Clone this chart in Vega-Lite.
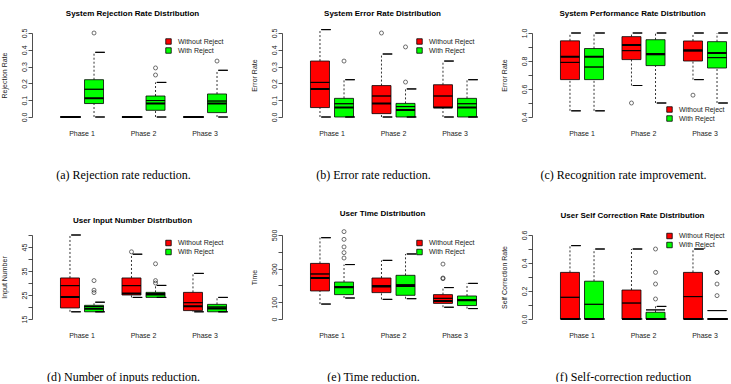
{
  "$schema": "https://vega.github.io/schema/vega-lite/v6.json",
  "background": "white",
  "padding": {"left": 0, "top": 10, "right": 0, "bottom": 0},
  "datasets": {
    "boxes": [
      {"panel": "a", "phase": "Phase 1", "group": "Without Reject", "lo": 0, "q1": 0, "med": 0, "mean": 0, "q3": 0, "hi": 0},
      {"panel": "a", "phase": "Phase 1", "group": "With Reject", "lo": 0, "q1": 0.08, "med": 0.111, "mean": 0.165, "q3": 0.222, "hi": 0.385},
      {"panel": "a", "phase": "Phase 2", "group": "Without Reject", "lo": 0, "q1": 0, "med": 0, "mean": 0, "q3": 0, "hi": 0},
      {"panel": "a", "phase": "Phase 2", "group": "With Reject", "lo": 0, "q1": 0.04, "med": 0.08, "mean": 0.098, "q3": 0.125, "hi": 0.206},
      {"panel": "a", "phase": "Phase 3", "group": "Without Reject", "lo": 0, "q1": 0, "med": 0, "mean": 0, "q3": 0, "hi": 0},
      {"panel": "a", "phase": "Phase 3", "group": "With Reject", "lo": 0, "q1": 0.026, "med": 0.081, "mean": 0.095, "q3": 0.137, "hi": 0.278},

      {"panel": "b", "phase": "Phase 1", "group": "Without Reject", "lo": 0, "q1": 0.056, "med": 0.167, "mean": 0.206, "q3": 0.333, "hi": 0.52},
      {"panel": "b", "phase": "Phase 1", "group": "With Reject", "lo": 0, "q1": 0, "med": 0.056, "mean": 0.079, "q3": 0.111, "hi": 0.222},
      {"panel": "b", "phase": "Phase 2", "group": "Without Reject", "lo": 0, "q1": 0.02, "med": 0.081, "mean": 0.125, "q3": 0.187, "hi": 0.375},
      {"panel": "b", "phase": "Phase 2", "group": "With Reject", "lo": 0, "q1": 0, "med": 0.042, "mean": 0.062, "q3": 0.081, "hi": 0.167},
      {"panel": "b", "phase": "Phase 3", "group": "Without Reject", "lo": 0, "q1": 0.056, "med": 0.056, "mean": 0.125, "q3": 0.192, "hi": 0.333},
      {"panel": "b", "phase": "Phase 3", "group": "With Reject", "lo": 0, "q1": 0, "med": 0.056, "mean": 0.079, "q3": 0.111, "hi": 0.222},

      {"panel": "c", "phase": "Phase 1", "group": "Without Reject", "lo": 0.444, "q1": 0.667, "med": 0.831, "mean": 0.79, "q3": 0.944, "hi": 1},
      {"panel": "c", "phase": "Phase 1", "group": "With Reject", "lo": 0.444, "q1": 0.667, "med": 0.831, "mean": 0.757, "q3": 0.889, "hi": 1},
      {"panel": "c", "phase": "Phase 2", "group": "Without Reject", "lo": 0.625, "q1": 0.81, "med": 0.914, "mean": 0.874, "q3": 0.974, "hi": 1},
      {"panel": "c", "phase": "Phase 2", "group": "With Reject", "lo": 0.5, "q1": 0.767, "med": 0.85, "mean": 0.845, "q3": 0.952, "hi": 1},
      {"panel": "c", "phase": "Phase 3", "group": "Without Reject", "lo": 0.667, "q1": 0.8, "med": 0.876, "mean": 0.872, "q3": 0.943, "hi": 1},
      {"panel": "c", "phase": "Phase 3", "group": "With Reject", "lo": 0.5, "q1": 0.75, "med": 0.857, "mean": 0.824, "q3": 0.938, "hi": 1},

      {"panel": "d", "phase": "Phase 1", "group": "Without Reject", "lo": 18, "q1": 19.6, "med": 24.2, "mean": 28.9, "q3": 32.1, "hi": 50},
      {"panel": "d", "phase": "Phase 1", "group": "With Reject", "lo": 18, "q1": 18, "med": 19.3, "mean": 20.2, "q3": 20.7, "hi": 22},
      {"panel": "d", "phase": "Phase 2", "group": "Without Reject", "lo": 24, "q1": 25, "med": 25.6, "mean": 28.9, "q3": 32.1, "hi": 42},
      {"panel": "d", "phase": "Phase 2", "group": "With Reject", "lo": 24, "q1": 24, "med": 25.2, "mean": 25.6, "q3": 26.1, "hi": 29},
      {"panel": "d", "phase": "Phase 3", "group": "Without Reject", "lo": 18, "q1": 18.5, "med": 20.3, "mean": 21.8, "q3": 26.1, "hi": 34},
      {"panel": "d", "phase": "Phase 3", "group": "With Reject", "lo": 18, "q1": 18, "med": 19.4, "mean": 20, "q3": 21.1, "hi": 24},

      {"panel": "e", "phase": "Phase 1", "group": "Without Reject", "lo": 89, "q1": 167, "med": 244, "mean": 268, "q3": 331, "hi": 484},
      {"panel": "e", "phase": "Phase 1", "group": "With Reject", "lo": 125, "q1": 145, "med": 189, "mean": 192, "q3": 220, "hi": 324},
      {"panel": "e", "phase": "Phase 2", "group": "Without Reject", "lo": 117, "q1": 157, "med": 193, "mean": 199, "q3": 244, "hi": 349},
      {"panel": "e", "phase": "Phase 2", "group": "With Reject", "lo": 121, "q1": 141, "med": 196, "mean": 204, "q3": 260, "hi": 387},
      {"panel": "e", "phase": "Phase 3", "group": "Without Reject", "lo": 70, "q1": 93, "med": 107, "mean": 123, "q3": 145, "hi": 187},
      {"panel": "e", "phase": "Phase 3", "group": "With Reject", "lo": 62, "q1": 80, "med": 111, "mean": 115, "q3": 137, "hi": 212},

      {"panel": "f", "phase": "Phase 1", "group": "Without Reject", "lo": 0, "q1": 0, "med": 0, "mean": 0.155, "q3": 0.333, "hi": 0.524},
      {"panel": "f", "phase": "Phase 1", "group": "With Reject", "lo": 0, "q1": 0, "med": 0, "mean": 0.105, "q3": 0.27, "hi": 0.5},
      {"panel": "f", "phase": "Phase 2", "group": "Without Reject", "lo": 0, "q1": 0, "med": 0, "mean": 0.114, "q3": 0.207, "hi": 0.5},
      {"panel": "f", "phase": "Phase 2", "group": "With Reject", "lo": 0, "q1": 0, "med": 0, "mean": 0.065, "q3": 0.048, "hi": 0.09},
      {"panel": "f", "phase": "Phase 3", "group": "Without Reject", "lo": 0, "q1": 0, "med": 0, "mean": 0.16, "q3": 0.333, "hi": 0.5},
      {"panel": "f", "phase": "Phase 3", "group": "With Reject", "lo": 0, "q1": 0, "med": 0, "mean": 0.06, "q3": 0, "hi": 0}
    ],
    "outliers": [
      {"panel": "a", "phase": "Phase 1", "group": "With Reject", "value": 0.5},
      {"panel": "a", "phase": "Phase 2", "group": "With Reject", "value": 0.292},
      {"panel": "a", "phase": "Phase 2", "group": "With Reject", "value": 0.25},
      {"panel": "a", "phase": "Phase 3", "group": "With Reject", "value": 0.333},
      {"panel": "b", "phase": "Phase 1", "group": "With Reject", "value": 0.333},
      {"panel": "b", "phase": "Phase 2", "group": "Without Reject", "value": 0.5},
      {"panel": "b", "phase": "Phase 2", "group": "With Reject", "value": 0.417},
      {"panel": "b", "phase": "Phase 2", "group": "With Reject", "value": 0.208},
      {"panel": "c", "phase": "Phase 2", "group": "Without Reject", "value": 0.5},
      {"panel": "c", "phase": "Phase 3", "group": "Without Reject", "value": 0.556},
      {"panel": "d", "phase": "Phase 1", "group": "With Reject", "value": 31},
      {"panel": "d", "phase": "Phase 1", "group": "With Reject", "value": 27},
      {"panel": "d", "phase": "Phase 1", "group": "With Reject", "value": 26},
      {"panel": "d", "phase": "Phase 2", "group": "Without Reject", "value": 43},
      {"panel": "d", "phase": "Phase 2", "group": "With Reject", "value": 38},
      {"panel": "d", "phase": "Phase 2", "group": "With Reject", "value": 31},
      {"panel": "d", "phase": "Phase 2", "group": "With Reject", "value": 30},
      {"panel": "e", "phase": "Phase 1", "group": "With Reject", "value": 520},
      {"panel": "e", "phase": "Phase 1", "group": "With Reject", "value": 474},
      {"panel": "e", "phase": "Phase 1", "group": "With Reject", "value": 429},
      {"panel": "e", "phase": "Phase 1", "group": "With Reject", "value": 395},
      {"panel": "e", "phase": "Phase 1", "group": "With Reject", "value": 363},
      {"panel": "e", "phase": "Phase 3", "group": "Without Reject", "value": 327},
      {"panel": "e", "phase": "Phase 3", "group": "Without Reject", "value": 244},
      {"panel": "e", "phase": "Phase 3", "group": "Without Reject", "value": 240},
      {"panel": "f", "phase": "Phase 2", "group": "With Reject", "value": 0.5},
      {"panel": "f", "phase": "Phase 2", "group": "With Reject", "value": 0.333},
      {"panel": "f", "phase": "Phase 2", "group": "With Reject", "value": 0.25},
      {"panel": "f", "phase": "Phase 2", "group": "With Reject", "value": 0.143},
      {"panel": "f", "phase": "Phase 3", "group": "With Reject", "value": 0.333},
      {"panel": "f", "phase": "Phase 3", "group": "With Reject", "value": 0.333},
      {"panel": "f", "phase": "Phase 3", "group": "With Reject", "value": 0.25},
      {"panel": "f", "phase": "Phase 3", "group": "With Reject", "value": 0.167}
    ]
  },
  "columns": 3,
  "bounds": "flush",
  "spacing": {"row": 118, "column": 27},
  "resolve": {
    "scale": {"color": "independent", "xOffset": "independent"},
    "legend": {"color": "independent"}
  },
  "concat": [
    {
      "width": 223, "height": 84,
      "title": "System Rejection Rate Distribution",
      "data": {"name": "boxes"},
      "transform": [{"filter": "datum.panel === 'a'"}],
      "encoding": {
        "x": {"field": "phase", "type": "nominal", "scale": {"paddingInner": 0.3, "paddingOuter": 0.463}, "axis": {"title": "(a) Rejection rate reduction."}},
        "xOffset": {"field": "group", "type": "nominal", "sort": ["Without Reject", "With Reject"], "scale": {"paddingInner": 0.21, "paddingOuter": 0}}
      },
      "layer": [
        {"mark": {"type": "rule", "strokeDash": [2, 2], "color": "black", "strokeWidth": 0.8},
         "encoding": {"y": {"field": "lo", "type": "quantitative", "scale": {"domain": [0, 0.5], "nice": false, "zero": false}, "axis": {"title": "Rejection Rate", "values": [0, 0.1, 0.2, 0.3, 0.4, 0.5], "format": ".1f"}}, "y2": {"field": "q1"}}},
        {"mark": {"type": "rule", "strokeDash": [2, 2], "color": "black", "strokeWidth": 0.8},
         "encoding": {"y": {"field": "q3", "type": "quantitative", "scale": {"domain": [0, 0.5], "nice": false, "zero": false}, "axis": {"title": "Rejection Rate", "values": [0, 0.1, 0.2, 0.3, 0.4, 0.5], "format": ".1f"}}, "y2": {"field": "hi"}}},
        {"mark": {"type": "bar", "stroke": "black", "strokeWidth": 0.8, "width": {"band": 1}},
         "encoding": {"y": {"field": "q1", "type": "quantitative", "scale": {"domain": [0, 0.5], "nice": false, "zero": false}, "axis": {"title": "Rejection Rate", "values": [0, 0.1, 0.2, 0.3, 0.4, 0.5], "format": ".1f"}}, "y2": {"field": "q3"},
           "color": {"field": "group", "type": "nominal", "scale": {"domain": ["Without Reject", "With Reject"], "range": ["#ff0000", "#00ff00"]}, "legend": {"legendX": 133, "legendY": 5}}}},
        {"mark": {"type": "bar", "stroke": "black", "strokeWidth": 1, "fill": "black", "width": {"band": 0.5}},
         "encoding": {"y": {"field": "lo", "type": "quantitative", "scale": {"domain": [0, 0.5], "nice": false, "zero": false}, "axis": {"title": "Rejection Rate", "values": [0, 0.1, 0.2, 0.3, 0.4, 0.5], "format": ".1f"}}, "y2": {"field": "lo"}}},
        {"mark": {"type": "bar", "stroke": "black", "strokeWidth": 1, "fill": "black", "width": {"band": 0.5}},
         "encoding": {"y": {"field": "hi", "type": "quantitative", "scale": {"domain": [0, 0.5], "nice": false, "zero": false}, "axis": {"title": "Rejection Rate", "values": [0, 0.1, 0.2, 0.3, 0.4, 0.5], "format": ".1f"}}, "y2": {"field": "hi"}}},
        {"mark": {"type": "bar", "stroke": "black", "strokeWidth": 2, "fill": "black", "width": {"band": 1}},
         "encoding": {"y": {"field": "med", "type": "quantitative", "scale": {"domain": [0, 0.5], "nice": false, "zero": false}, "axis": {"title": "Rejection Rate", "values": [0, 0.1, 0.2, 0.3, 0.4, 0.5], "format": ".1f"}}, "y2": {"field": "med"}}},
        {"mark": {"type": "bar", "stroke": "black", "strokeWidth": 0.9, "fill": "black", "width": {"band": 1}},
         "encoding": {"y": {"field": "mean", "type": "quantitative", "scale": {"domain": [0, 0.5], "nice": false, "zero": false}, "axis": {"title": "Rejection Rate", "values": [0, 0.1, 0.2, 0.3, 0.4, 0.5], "format": ".1f"}}, "y2": {"field": "mean"}}},
        {"data": {"name": "outliers"}, "transform": [{"filter": "datum.panel === 'a'"}],
         "mark": {"type": "point", "shape": "circle", "filled": false, "size": 16, "color": "black", "strokeWidth": 0.8},
         "encoding": {"y": {"field": "value", "type": "quantitative", "scale": {"domain": [0, 0.5], "nice": false, "zero": false}, "axis": {"title": "Rejection Rate", "values": [0, 0.1, 0.2, 0.3, 0.4, 0.5], "format": ".1f"}}}}
      ]
    },
    {
      "width": 223, "height": 84,
      "title": "System Error Rate Distribution",
      "data": {"name": "boxes"},
      "transform": [{"filter": "datum.panel === 'b'"}],
      "encoding": {
        "x": {"field": "phase", "type": "nominal", "scale": {"paddingInner": 0.3, "paddingOuter": 0.463}, "axis": {"title": "(b) Error rate reduction."}},
        "xOffset": {"field": "group", "type": "nominal", "sort": ["Without Reject", "With Reject"], "scale": {"paddingInner": 0.21, "paddingOuter": 0}}
      },
      "layer": [
        {"mark": {"type": "rule", "strokeDash": [2, 2], "color": "black", "strokeWidth": 0.8},
         "encoding": {"y": {"field": "lo", "type": "quantitative", "scale": {"domain": [0, 0.5], "nice": false, "zero": false}, "axis": {"title": "Error Rate", "values": [0, 0.1, 0.2, 0.3, 0.4, 0.5], "format": ".1f"}}, "y2": {"field": "q1"}}},
        {"mark": {"type": "rule", "strokeDash": [2, 2], "color": "black", "strokeWidth": 0.8},
         "encoding": {"y": {"field": "q3", "type": "quantitative", "scale": {"domain": [0, 0.5], "nice": false, "zero": false}, "axis": {"title": "Error Rate", "values": [0, 0.1, 0.2, 0.3, 0.4, 0.5], "format": ".1f"}}, "y2": {"field": "hi"}}},
        {"mark": {"type": "bar", "stroke": "black", "strokeWidth": 0.8, "width": {"band": 1}},
         "encoding": {"y": {"field": "q1", "type": "quantitative", "scale": {"domain": [0, 0.5], "nice": false, "zero": false}, "axis": {"title": "Error Rate", "values": [0, 0.1, 0.2, 0.3, 0.4, 0.5], "format": ".1f"}}, "y2": {"field": "q3"},
           "color": {"field": "group", "type": "nominal", "scale": {"domain": ["Without Reject", "With Reject"], "range": ["#ff0000", "#00ff00"]}, "legend": {"legendX": 134, "legendY": 5}}}},
        {"mark": {"type": "bar", "stroke": "black", "strokeWidth": 1, "fill": "black", "width": {"band": 0.5}},
         "encoding": {"y": {"field": "lo", "type": "quantitative", "scale": {"domain": [0, 0.5], "nice": false, "zero": false}, "axis": {"title": "Error Rate", "values": [0, 0.1, 0.2, 0.3, 0.4, 0.5], "format": ".1f"}}, "y2": {"field": "lo"}}},
        {"mark": {"type": "bar", "stroke": "black", "strokeWidth": 1, "fill": "black", "width": {"band": 0.5}},
         "encoding": {"y": {"field": "hi", "type": "quantitative", "scale": {"domain": [0, 0.5], "nice": false, "zero": false}, "axis": {"title": "Error Rate", "values": [0, 0.1, 0.2, 0.3, 0.4, 0.5], "format": ".1f"}}, "y2": {"field": "hi"}}},
        {"mark": {"type": "bar", "stroke": "black", "strokeWidth": 2, "fill": "black", "width": {"band": 1}},
         "encoding": {"y": {"field": "med", "type": "quantitative", "scale": {"domain": [0, 0.5], "nice": false, "zero": false}, "axis": {"title": "Error Rate", "values": [0, 0.1, 0.2, 0.3, 0.4, 0.5], "format": ".1f"}}, "y2": {"field": "med"}}},
        {"mark": {"type": "bar", "stroke": "black", "strokeWidth": 0.9, "fill": "black", "width": {"band": 1}},
         "encoding": {"y": {"field": "mean", "type": "quantitative", "scale": {"domain": [0, 0.5], "nice": false, "zero": false}, "axis": {"title": "Error Rate", "values": [0, 0.1, 0.2, 0.3, 0.4, 0.5], "format": ".1f"}}, "y2": {"field": "mean"}}},
        {"data": {"name": "outliers"}, "transform": [{"filter": "datum.panel === 'b'"}],
         "mark": {"type": "point", "shape": "circle", "filled": false, "size": 16, "color": "black", "strokeWidth": 0.8},
         "encoding": {"y": {"field": "value", "type": "quantitative", "scale": {"domain": [0, 0.5], "nice": false, "zero": false}, "axis": {"title": "Error Rate", "values": [0, 0.1, 0.2, 0.3, 0.4, 0.5], "format": ".1f"}}}}
      ]
    },
    {
      "width": 223, "height": 84,
      "title": "System Performance Rate Distribution",
      "data": {"name": "boxes"},
      "transform": [{"filter": "datum.panel === 'c'"}],
      "encoding": {
        "x": {"field": "phase", "type": "nominal", "scale": {"paddingInner": 0.3, "paddingOuter": 0.463}, "axis": {"title": "(c) Recognition rate improvement."}},
        "xOffset": {"field": "group", "type": "nominal", "sort": ["Without Reject", "With Reject"], "scale": {"paddingInner": 0.21, "paddingOuter": 0}}
      },
      "layer": [
        {"mark": {"type": "rule", "strokeDash": [2, 2], "color": "black", "strokeWidth": 0.8},
         "encoding": {"y": {"field": "lo", "type": "quantitative", "scale": {"domain": [0.4, 1], "nice": false, "zero": false}, "axis": {"title": "Error Rate", "values": [0.4, 0.5, 0.6, 0.7, 0.8, 0.9, 1], "format": ".1f", "labelExpr": "indexof(['0.4','0.6','0.8','1.0'], datum.label) >= 0 ? datum.label : ''"}}, "y2": {"field": "q1"}}},
        {"mark": {"type": "rule", "strokeDash": [2, 2], "color": "black", "strokeWidth": 0.8},
         "encoding": {"y": {"field": "q3", "type": "quantitative", "scale": {"domain": [0.4, 1], "nice": false, "zero": false}, "axis": {"title": "Error Rate", "values": [0.4, 0.5, 0.6, 0.7, 0.8, 0.9, 1], "format": ".1f", "labelExpr": "indexof(['0.4','0.6','0.8','1.0'], datum.label) >= 0 ? datum.label : ''"}}, "y2": {"field": "hi"}}},
        {"mark": {"type": "bar", "stroke": "black", "strokeWidth": 0.8, "width": {"band": 1}},
         "encoding": {"y": {"field": "q1", "type": "quantitative", "scale": {"domain": [0.4, 1], "nice": false, "zero": false}, "axis": {"title": "Error Rate", "values": [0.4, 0.5, 0.6, 0.7, 0.8, 0.9, 1], "format": ".1f", "labelExpr": "indexof(['0.4','0.6','0.8','1.0'], datum.label) >= 0 ? datum.label : ''"}}, "y2": {"field": "q3"},
           "color": {"field": "group", "type": "nominal", "scale": {"domain": ["Without Reject", "With Reject"], "range": ["#ff0000", "#00ff00"]}, "legend": {"legendX": 134, "legendY": 73}}}},
        {"mark": {"type": "bar", "stroke": "black", "strokeWidth": 1, "fill": "black", "width": {"band": 0.5}},
         "encoding": {"y": {"field": "lo", "type": "quantitative", "scale": {"domain": [0.4, 1], "nice": false, "zero": false}, "axis": {"title": "Error Rate", "values": [0.4, 0.5, 0.6, 0.7, 0.8, 0.9, 1], "format": ".1f", "labelExpr": "indexof(['0.4','0.6','0.8','1.0'], datum.label) >= 0 ? datum.label : ''"}}, "y2": {"field": "lo"}}},
        {"mark": {"type": "bar", "stroke": "black", "strokeWidth": 1, "fill": "black", "width": {"band": 0.5}},
         "encoding": {"y": {"field": "hi", "type": "quantitative", "scale": {"domain": [0.4, 1], "nice": false, "zero": false}, "axis": {"title": "Error Rate", "values": [0.4, 0.5, 0.6, 0.7, 0.8, 0.9, 1], "format": ".1f", "labelExpr": "indexof(['0.4','0.6','0.8','1.0'], datum.label) >= 0 ? datum.label : ''"}}, "y2": {"field": "hi"}}},
        {"mark": {"type": "bar", "stroke": "black", "strokeWidth": 2, "fill": "black", "width": {"band": 1}},
         "encoding": {"y": {"field": "med", "type": "quantitative", "scale": {"domain": [0.4, 1], "nice": false, "zero": false}, "axis": {"title": "Error Rate", "values": [0.4, 0.5, 0.6, 0.7, 0.8, 0.9, 1], "format": ".1f", "labelExpr": "indexof(['0.4','0.6','0.8','1.0'], datum.label) >= 0 ? datum.label : ''"}}, "y2": {"field": "med"}}},
        {"mark": {"type": "bar", "stroke": "black", "strokeWidth": 0.9, "fill": "black", "width": {"band": 1}},
         "encoding": {"y": {"field": "mean", "type": "quantitative", "scale": {"domain": [0.4, 1], "nice": false, "zero": false}, "axis": {"title": "Error Rate", "values": [0.4, 0.5, 0.6, 0.7, 0.8, 0.9, 1], "format": ".1f", "labelExpr": "indexof(['0.4','0.6','0.8','1.0'], datum.label) >= 0 ? datum.label : ''"}}, "y2": {"field": "mean"}}},
        {"data": {"name": "outliers"}, "transform": [{"filter": "datum.panel === 'c'"}],
         "mark": {"type": "point", "shape": "circle", "filled": false, "size": 16, "color": "black", "strokeWidth": 0.8},
         "encoding": {"y": {"field": "value", "type": "quantitative", "scale": {"domain": [0.4, 1], "nice": false, "zero": false}, "axis": {"title": "Error Rate", "values": [0.4, 0.5, 0.6, 0.7, 0.8, 0.9, 1], "format": ".1f", "labelExpr": "indexof(['0.4','0.6','0.8','1.0'], datum.label) >= 0 ? datum.label : ''"}}}}
      ]
    },
    {
      "width": 223, "height": 84,
      "title": "User Input Number Distribution",
      "data": {"name": "boxes"},
      "transform": [{"filter": "datum.panel === 'd'"}],
      "encoding": {
        "x": {"field": "phase", "type": "nominal", "scale": {"paddingInner": 0.3, "paddingOuter": 0.463}, "axis": {"title": "(d) Number of inputs reduction."}},
        "xOffset": {"field": "group", "type": "nominal", "sort": ["Without Reject", "With Reject"], "scale": {"paddingInner": 0.21, "paddingOuter": 0}}
      },
      "layer": [
        {"mark": {"type": "rule", "strokeDash": [2, 2], "color": "black", "strokeWidth": 0.8},
         "encoding": {"y": {"field": "lo", "type": "quantitative", "scale": {"domain": [15, 50], "nice": false, "zero": false}, "axis": {"title": "Input Number", "values": [15, 20, 25, 30, 35, 40, 45, 50], "labelExpr": "datum.value % 10 == 5 ? datum.label : ''"}}, "y2": {"field": "q1"}}},
        {"mark": {"type": "rule", "strokeDash": [2, 2], "color": "black", "strokeWidth": 0.8},
         "encoding": {"y": {"field": "q3", "type": "quantitative", "scale": {"domain": [15, 50], "nice": false, "zero": false}, "axis": {"title": "Input Number", "values": [15, 20, 25, 30, 35, 40, 45, 50], "labelExpr": "datum.value % 10 == 5 ? datum.label : ''"}}, "y2": {"field": "hi"}}},
        {"mark": {"type": "bar", "stroke": "black", "strokeWidth": 0.8, "width": {"band": 1}},
         "encoding": {"y": {"field": "q1", "type": "quantitative", "scale": {"domain": [15, 50], "nice": false, "zero": false}, "axis": {"title": "Input Number", "values": [15, 20, 25, 30, 35, 40, 45, 50], "labelExpr": "datum.value % 10 == 5 ? datum.label : ''"}}, "y2": {"field": "q3"},
           "color": {"field": "group", "type": "nominal", "scale": {"domain": ["Without Reject", "With Reject"], "range": ["#ff0000", "#00ff00"]}, "legend": {"legendX": 133, "legendY": 4.5}}}},
        {"mark": {"type": "bar", "stroke": "black", "strokeWidth": 1, "fill": "black", "width": {"band": 0.5}},
         "encoding": {"y": {"field": "lo", "type": "quantitative", "scale": {"domain": [15, 50], "nice": false, "zero": false}, "axis": {"title": "Input Number", "values": [15, 20, 25, 30, 35, 40, 45, 50], "labelExpr": "datum.value % 10 == 5 ? datum.label : ''"}}, "y2": {"field": "lo"}}},
        {"mark": {"type": "bar", "stroke": "black", "strokeWidth": 1, "fill": "black", "width": {"band": 0.5}},
         "encoding": {"y": {"field": "hi", "type": "quantitative", "scale": {"domain": [15, 50], "nice": false, "zero": false}, "axis": {"title": "Input Number", "values": [15, 20, 25, 30, 35, 40, 45, 50], "labelExpr": "datum.value % 10 == 5 ? datum.label : ''"}}, "y2": {"field": "hi"}}},
        {"mark": {"type": "bar", "stroke": "black", "strokeWidth": 2, "fill": "black", "width": {"band": 1}},
         "encoding": {"y": {"field": "med", "type": "quantitative", "scale": {"domain": [15, 50], "nice": false, "zero": false}, "axis": {"title": "Input Number", "values": [15, 20, 25, 30, 35, 40, 45, 50], "labelExpr": "datum.value % 10 == 5 ? datum.label : ''"}}, "y2": {"field": "med"}}},
        {"mark": {"type": "bar", "stroke": "black", "strokeWidth": 0.9, "fill": "black", "width": {"band": 1}},
         "encoding": {"y": {"field": "mean", "type": "quantitative", "scale": {"domain": [15, 50], "nice": false, "zero": false}, "axis": {"title": "Input Number", "values": [15, 20, 25, 30, 35, 40, 45, 50], "labelExpr": "datum.value % 10 == 5 ? datum.label : ''"}}, "y2": {"field": "mean"}}},
        {"data": {"name": "outliers"}, "transform": [{"filter": "datum.panel === 'd'"}],
         "mark": {"type": "point", "shape": "circle", "filled": false, "size": 16, "color": "black", "strokeWidth": 0.8},
         "encoding": {"y": {"field": "value", "type": "quantitative", "scale": {"domain": [15, 50], "nice": false, "zero": false}, "axis": {"title": "Input Number", "values": [15, 20, 25, 30, 35, 40, 45, 50], "labelExpr": "datum.value % 10 == 5 ? datum.label : ''"}}}}
      ]
    },
    {
      "width": 223, "height": 84,
      "title": "User Time Distribution",
      "data": {"name": "boxes"},
      "transform": [{"filter": "datum.panel === 'e'"}],
      "encoding": {
        "x": {"field": "phase", "type": "nominal", "scale": {"paddingInner": 0.3, "paddingOuter": 0.463}, "axis": {"title": "(e) Time reduction."}},
        "xOffset": {"field": "group", "type": "nominal", "sort": ["Without Reject", "With Reject"], "scale": {"paddingInner": 0.21, "paddingOuter": 0}}
      },
      "layer": [
        {"mark": {"type": "rule", "strokeDash": [2, 2], "color": "black", "strokeWidth": 0.8},
         "encoding": {"y": {"field": "lo", "type": "quantitative", "scale": {"domain": [0, 500], "nice": false, "zero": false}, "axis": {"title": "Time", "values": [0, 100, 200, 300, 400, 500], "labelExpr": "datum.value == 200 || datum.value == 400 ? '' : datum.label"}}, "y2": {"field": "q1"}}},
        {"mark": {"type": "rule", "strokeDash": [2, 2], "color": "black", "strokeWidth": 0.8},
         "encoding": {"y": {"field": "q3", "type": "quantitative", "scale": {"domain": [0, 500], "nice": false, "zero": false}, "axis": {"title": "Time", "values": [0, 100, 200, 300, 400, 500], "labelExpr": "datum.value == 200 || datum.value == 400 ? '' : datum.label"}}, "y2": {"field": "hi"}}},
        {"mark": {"type": "bar", "stroke": "black", "strokeWidth": 0.8, "width": {"band": 1}},
         "encoding": {"y": {"field": "q1", "type": "quantitative", "scale": {"domain": [0, 500], "nice": false, "zero": false}, "axis": {"title": "Time", "values": [0, 100, 200, 300, 400, 500], "labelExpr": "datum.value == 200 || datum.value == 400 ? '' : datum.label"}}, "y2": {"field": "q3"},
           "color": {"field": "group", "type": "nominal", "scale": {"domain": ["Without Reject", "With Reject"], "range": ["#ff0000", "#00ff00"]}, "legend": {"legendX": 134, "legendY": 4.5}}}},
        {"mark": {"type": "bar", "stroke": "black", "strokeWidth": 1, "fill": "black", "width": {"band": 0.5}},
         "encoding": {"y": {"field": "lo", "type": "quantitative", "scale": {"domain": [0, 500], "nice": false, "zero": false}, "axis": {"title": "Time", "values": [0, 100, 200, 300, 400, 500], "labelExpr": "datum.value == 200 || datum.value == 400 ? '' : datum.label"}}, "y2": {"field": "lo"}}},
        {"mark": {"type": "bar", "stroke": "black", "strokeWidth": 1, "fill": "black", "width": {"band": 0.5}},
         "encoding": {"y": {"field": "hi", "type": "quantitative", "scale": {"domain": [0, 500], "nice": false, "zero": false}, "axis": {"title": "Time", "values": [0, 100, 200, 300, 400, 500], "labelExpr": "datum.value == 200 || datum.value == 400 ? '' : datum.label"}}, "y2": {"field": "hi"}}},
        {"mark": {"type": "bar", "stroke": "black", "strokeWidth": 2, "fill": "black", "width": {"band": 1}},
         "encoding": {"y": {"field": "med", "type": "quantitative", "scale": {"domain": [0, 500], "nice": false, "zero": false}, "axis": {"title": "Time", "values": [0, 100, 200, 300, 400, 500], "labelExpr": "datum.value == 200 || datum.value == 400 ? '' : datum.label"}}, "y2": {"field": "med"}}},
        {"mark": {"type": "bar", "stroke": "black", "strokeWidth": 0.9, "fill": "black", "width": {"band": 1}},
         "encoding": {"y": {"field": "mean", "type": "quantitative", "scale": {"domain": [0, 500], "nice": false, "zero": false}, "axis": {"title": "Time", "values": [0, 100, 200, 300, 400, 500], "labelExpr": "datum.value == 200 || datum.value == 400 ? '' : datum.label"}}, "y2": {"field": "mean"}}},
        {"data": {"name": "outliers"}, "transform": [{"filter": "datum.panel === 'e'"}],
         "mark": {"type": "point", "shape": "circle", "filled": false, "size": 16, "color": "black", "strokeWidth": 0.8},
         "encoding": {"y": {"field": "value", "type": "quantitative", "scale": {"domain": [0, 500], "nice": false, "zero": false}, "axis": {"title": "Time", "values": [0, 100, 200, 300, 400, 500], "labelExpr": "datum.value == 200 || datum.value == 400 ? '' : datum.label"}}}}
      ]
    },
    {
      "width": 223, "height": 84,
      "title": "User Self Correction Rate Distribution",
      "data": {"name": "boxes"},
      "transform": [{"filter": "datum.panel === 'f'"}],
      "encoding": {
        "x": {"field": "phase", "type": "nominal", "scale": {"paddingInner": 0.3, "paddingOuter": 0.463}, "axis": {"title": "(f) Self-correction reduction"}},
        "xOffset": {"field": "group", "type": "nominal", "sort": ["Without Reject", "With Reject"], "scale": {"paddingInner": 0.21, "paddingOuter": 0}}
      },
      "layer": [
        {"mark": {"type": "rule", "strokeDash": [2, 2], "color": "black", "strokeWidth": 0.8},
         "encoding": {"y": {"field": "lo", "type": "quantitative", "scale": {"domain": [0, 0.6], "nice": false, "zero": false}, "axis": {"title": "Self Correction Rate", "values": [0, 0.1, 0.2, 0.3, 0.4, 0.5, 0.6], "format": ".1f", "labelExpr": "indexof(['0.0','0.2','0.4','0.6'], datum.label) >= 0 ? datum.label : ''"}}, "y2": {"field": "q1"}}},
        {"mark": {"type": "rule", "strokeDash": [2, 2], "color": "black", "strokeWidth": 0.8},
         "encoding": {"y": {"field": "q3", "type": "quantitative", "scale": {"domain": [0, 0.6], "nice": false, "zero": false}, "axis": {"title": "Self Correction Rate", "values": [0, 0.1, 0.2, 0.3, 0.4, 0.5, 0.6], "format": ".1f", "labelExpr": "indexof(['0.0','0.2','0.4','0.6'], datum.label) >= 0 ? datum.label : ''"}}, "y2": {"field": "hi"}}},
        {"mark": {"type": "bar", "stroke": "black", "strokeWidth": 0.8, "width": {"band": 1}},
         "encoding": {"y": {"field": "q1", "type": "quantitative", "scale": {"domain": [0, 0.6], "nice": false, "zero": false}, "axis": {"title": "Self Correction Rate", "values": [0, 0.1, 0.2, 0.3, 0.4, 0.5, 0.6], "format": ".1f", "labelExpr": "indexof(['0.0','0.2','0.4','0.6'], datum.label) >= 0 ? datum.label : ''"}}, "y2": {"field": "q3"},
           "color": {"field": "group", "type": "nominal", "scale": {"domain": ["Without Reject", "With Reject"], "range": ["#ff0000", "#00ff00"]}, "legend": {"legendX": 134, "legendY": -2.5}}}},
        {"mark": {"type": "bar", "stroke": "black", "strokeWidth": 1, "fill": "black", "width": {"band": 0.5}},
         "encoding": {"y": {"field": "lo", "type": "quantitative", "scale": {"domain": [0, 0.6], "nice": false, "zero": false}, "axis": {"title": "Self Correction Rate", "values": [0, 0.1, 0.2, 0.3, 0.4, 0.5, 0.6], "format": ".1f", "labelExpr": "indexof(['0.0','0.2','0.4','0.6'], datum.label) >= 0 ? datum.label : ''"}}, "y2": {"field": "lo"}}},
        {"mark": {"type": "bar", "stroke": "black", "strokeWidth": 1, "fill": "black", "width": {"band": 0.5}},
         "encoding": {"y": {"field": "hi", "type": "quantitative", "scale": {"domain": [0, 0.6], "nice": false, "zero": false}, "axis": {"title": "Self Correction Rate", "values": [0, 0.1, 0.2, 0.3, 0.4, 0.5, 0.6], "format": ".1f", "labelExpr": "indexof(['0.0','0.2','0.4','0.6'], datum.label) >= 0 ? datum.label : ''"}}, "y2": {"field": "hi"}}},
        {"mark": {"type": "bar", "stroke": "black", "strokeWidth": 2, "fill": "black", "width": {"band": 1}},
         "encoding": {"y": {"field": "med", "type": "quantitative", "scale": {"domain": [0, 0.6], "nice": false, "zero": false}, "axis": {"title": "Self Correction Rate", "values": [0, 0.1, 0.2, 0.3, 0.4, 0.5, 0.6], "format": ".1f", "labelExpr": "indexof(['0.0','0.2','0.4','0.6'], datum.label) >= 0 ? datum.label : ''"}}, "y2": {"field": "med"}}},
        {"mark": {"type": "bar", "stroke": "black", "strokeWidth": 0.9, "fill": "black", "width": {"band": 1}},
         "encoding": {"y": {"field": "mean", "type": "quantitative", "scale": {"domain": [0, 0.6], "nice": false, "zero": false}, "axis": {"title": "Self Correction Rate", "values": [0, 0.1, 0.2, 0.3, 0.4, 0.5, 0.6], "format": ".1f", "labelExpr": "indexof(['0.0','0.2','0.4','0.6'], datum.label) >= 0 ? datum.label : ''"}}, "y2": {"field": "mean"}}},
        {"data": {"name": "outliers"}, "transform": [{"filter": "datum.panel === 'f'"}],
         "mark": {"type": "point", "shape": "circle", "filled": false, "size": 16, "color": "black", "strokeWidth": 0.8},
         "encoding": {"y": {"field": "value", "type": "quantitative", "scale": {"domain": [0, 0.6], "nice": false, "zero": false}, "axis": {"title": "Self Correction Rate", "values": [0, 0.1, 0.2, 0.3, 0.4, 0.5, 0.6], "format": ".1f", "labelExpr": "indexof(['0.0','0.2','0.4','0.6'], datum.label) >= 0 ? datum.label : ''"}}}}
      ]
    }
  ],
  "config": {
    "font": "Liberation Sans",
    "view": {"stroke": null},
    "title": {"fontSize": 8, "fontWeight": "bold", "font": "Liberation Sans", "color": "black", "anchor": "middle", "dx": -11, "offset": 10},
    "axisY": {
      "grid": false, "labelAngle": 270, "labelAlign": "center", "labelBaseline": "bottom",
      "labelFontSize": 7, "labelColor": "#222", "labelPadding": 1, "labelOverlap": false, "labelBound": false, "labelFlush": false,
      "tickSize": 4, "tickColor": "#222", "domainColor": "#222", "tickWidth": 0.8, "domainWidth": 0.8,
      "titleFontSize": 7, "titleFontWeight": "normal", "titleColor": "#222",
      "titleX": -28, "titleY": 42, "titleAngle": 270, "titleAlign": "center", "titleBaseline": "middle"
    },
    "axisX": {
      "grid": false, "domain": false, "ticks": false, "labelAngle": 0,
      "labelFontSize": 7, "labelColor": "#222", "labelPadding": 12,
      "titleFont": "Liberation Serif", "titleFontSize": 12, "titleFontWeight": "normal", "titleColor": "black",
      "titleX": 91, "titleY": 61, "titleAlign": "center", "titleBaseline": "alphabetic"
    },
    "legend": {
      "orient": "none", "title": null, "symbolType": "square", "symbolSize": 30,
      "symbolStrokeColor": "black", "symbolStrokeWidth": 0.8,
      "labelFontSize": 7, "labelColor": "#222", "labelOffset": 6, "rowPadding": 0, "padding": 0
    }
  }
}
